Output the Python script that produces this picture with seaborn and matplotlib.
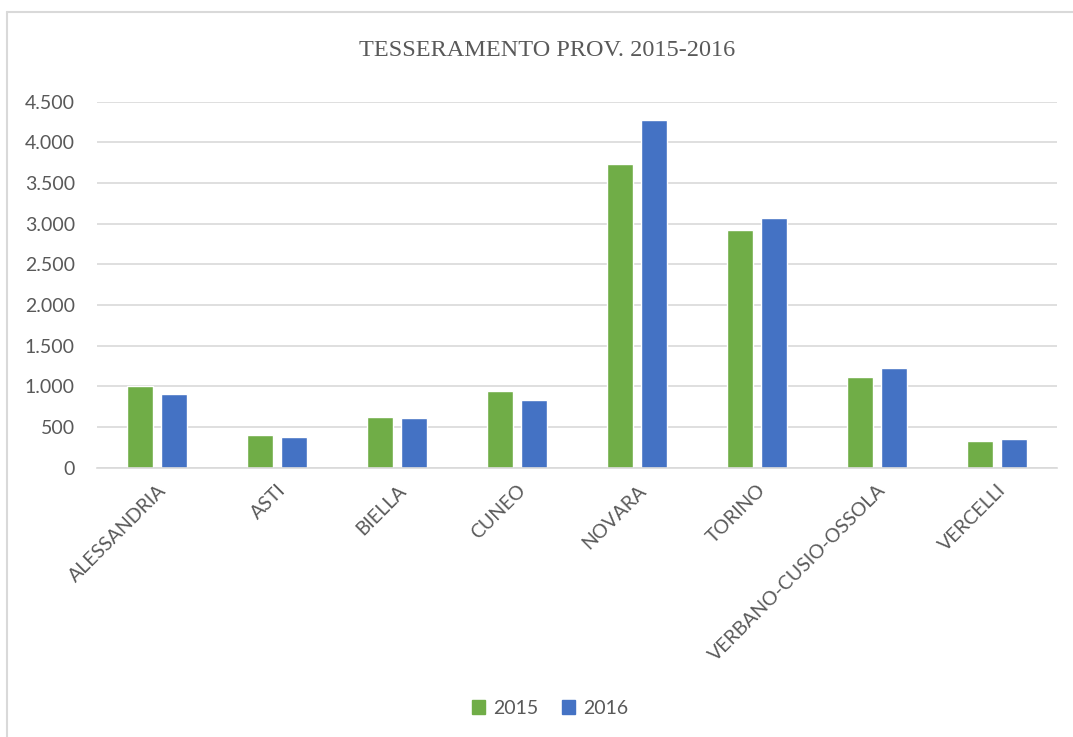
import numpy as np
import pandas as pd
import matplotlib.pyplot as plt
import seaborn as sns
from matplotlib.ticker import FuncFormatter
from matplotlib.lines import Line2D

# data
province = ["ALESSANDRIA", "ASTI", "BIELLA", "CUNEO", "NOVARA",
            "TORINO", "VERBANO-CUSIO-OSSOLA", "VERCELLI"]
val_2015 = [1000, 398, 627, 943, 3737, 2918, 1115, 328]
val_2016 = [902, 381, 615, 832, 4279, 3066, 1226, 348]
years = ["2015", "2016"]

df = pd.DataFrame({
    "Provincia": province * 2,
    "Anno": [years[0]] * len(province) + [years[1]] * len(province),
    "Tesserati": val_2015 + val_2016,
})

sns.set_theme(style="white")
plt.rcParams["font.family"] = ["Lato", "DejaVu Sans"]

txt_col = "#595959"
grid_col = "#D9D9D9"
palette = {"2015": "#70AD47", "2016": "#4472C4"}

fig = plt.figure(figsize=(10.73, 7.37), dpi=100)
ax = fig.add_axes([97 / 1073, 1 - 467.7 / 737, (1057 - 97) / 1073, (467.7 - 101.7) / 737])

sns.barplot(data=df, x="Provincia", y="Tesserati", hue="Anno", order=province,
            hue_order=years, palette=palette, width=0.567, gap=0.22,
            saturation=1, ax=ax, legend=False)

ax.set_ylim(0, 4500)
ax.set_xlim(-0.5, len(province) - 0.5)
ax.set_yticks(np.arange(0, 4501, 500))
ax.yaxis.set_major_formatter(FuncFormatter(lambda v, p: f"{int(v):,}".replace(",", ".")))
ax.yaxis.grid(True, color=grid_col, linewidth=1.2)
ax.set_axisbelow(True)
for s in ["left", "right", "top"]:
    ax.spines[s].set_visible(False)
ax.spines["bottom"].set_color(grid_col)
ax.spines["bottom"].set_linewidth(1.2)
ax.set_xlabel("")
ax.set_ylabel("")
ax.tick_params(axis="y", length=0, pad=16, labelsize=14, labelcolor=txt_col)
ax.tick_params(axis="x", length=0, pad=10, labelsize=14, labelcolor=txt_col)
plt.setp(ax.get_xticklabels(), rotation=45, ha="right", rotation_mode="anchor")

fig.text(547 / 1073, 1 - 51 / 737, "TESSERAMENTO PROV. 2015-2016", ha="center", va="center",
         fontsize=17.5, color=txt_col, family=["Liberation Serif", "DejaVu Serif"])

handles = [plt.Rectangle((0, 0), 1, 1, color=palette[y]) for y in years]
fig.legend(handles, years, loc="center", bbox_to_anchor=(550 / 1073, 1 - 708 / 737),
           ncol=2, frameon=False, fontsize=14, labelcolor=txt_col, handlelength=0.7,
           handleheight=0.7, handletextpad=0.4, columnspacing=1.2)

# chart border (left and top edges visible in the reference)
fig.add_artist(Line2D([7 / 1073, 7 / 1073], [0, 1 - 12 / 737], transform=fig.transFigure,
                      color=grid_col, linewidth=1.5))
fig.add_artist(Line2D([7 / 1073, 1], [1 - 12 / 737, 1 - 12 / 737], transform=fig.transFigure,
                      color=grid_col, linewidth=1.5))

fig.savefig("out.png", dpi=100)
